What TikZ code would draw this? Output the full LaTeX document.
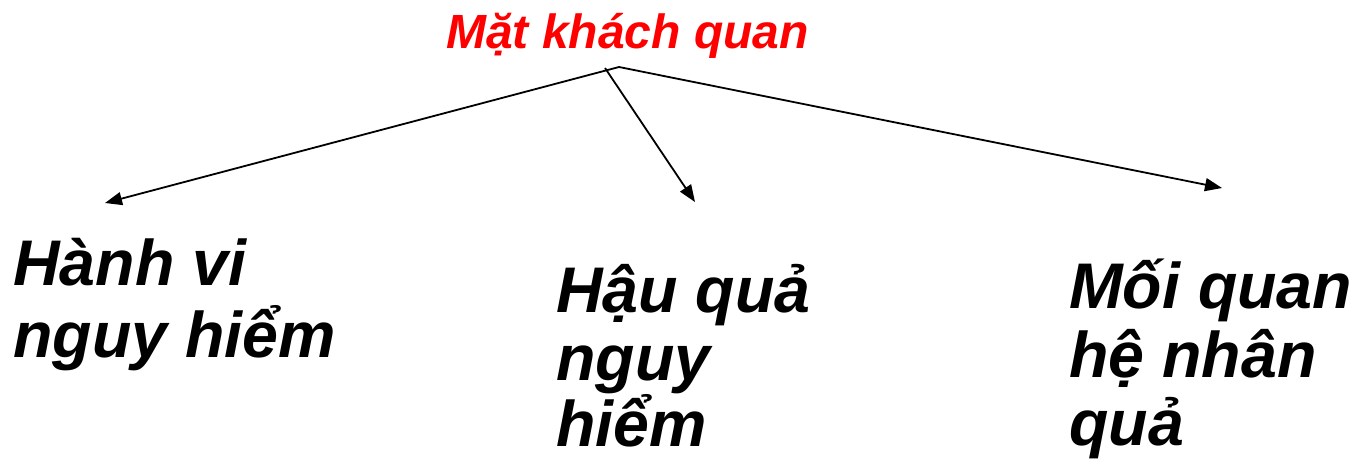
\documentclass[tikz,border=0pt]{standalone}
\usepackage{fontspec}
\setmainfont{Liberation Sans}
\usetikzlibrary{arrows.meta}
\definecolor{titlered}{RGB}{255,0,0}
\tikzset{
  big/.style={anchor=base west, inner sep=0pt, font=\fontsize{64.5}{70}\selectfont\bfseries\itshape},
  ttl/.style={anchor=base west, inner sep=0pt, text=titlered, font=\fontsize{48}{52}\selectfont\bfseries\itshape},
  arr/.style={line width=1.8pt, -{Triangle[length=17pt,width=13pt]}}
}
\begin{document}
\begin{tikzpicture}[x=1pt,y=-1pt]
\useasboundingbox (0,0) rectangle (1355,467);
\node[ttl] (title) at (446,48) {Mặt khách quan};
\coordinate (o1) at (619,67);
\coordinate (o2) at (605,68);
\coordinate (t1) at (105,203);
\coordinate (t2) at (695,202);
\coordinate (t3) at (1222,188);
\draw[arr] (o1) -- (t1);
\draw[arr] (o2) -- (t2);
\draw[arr] (o1) -- (t3);
\node[big] (a1) at (13,285) {Hành vi};
\node[big] (a2) at (13,357) {nguy hiểm};
\node[big] (b1) at (556,312) {Hậu quả};
\node[big] (b2) at (556,380) {nguy};
\node[big] (b3) at (556,446) {hiểm};
\node[big] (c1) at (1069,308) {Mối quan};
\node[big] (c2) at (1069,377) {hệ nhân};
\node[big] (c3) at (1069,445) {quả};
\end{tikzpicture}
\end{document}
